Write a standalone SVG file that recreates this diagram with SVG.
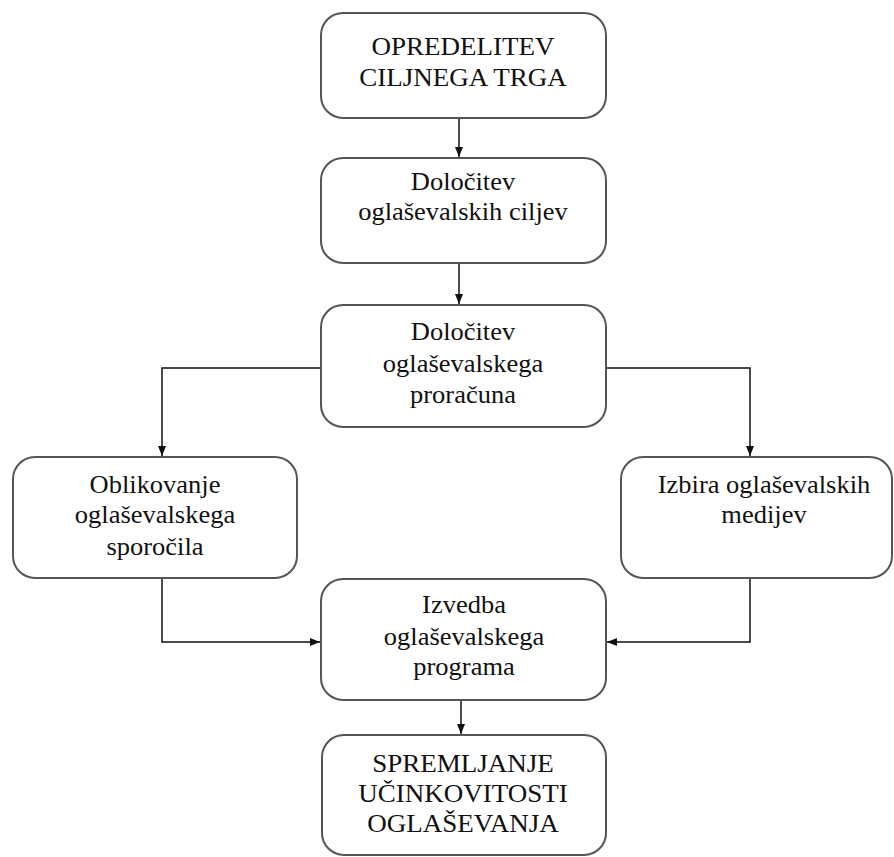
<svg xmlns="http://www.w3.org/2000/svg" width="894" height="857" viewBox="0 0 894 857">
<style>
.box{fill:#fff;stroke:#555;stroke-width:2}
.t{font-family:"Liberation Serif","Times New Roman","DejaVu Serif",serif;font-size:25px;fill:#111;text-anchor:middle}
.u{font-family:"Liberation Serif","Times New Roman","DejaVu Serif",serif;font-size:26px;fill:#111;text-anchor:middle}
.c{fill:none;stroke:#111;stroke-width:1.5}
</style>
<defs>
<marker id="ah" markerWidth="10" markerHeight="10" refX="10" refY="5" orient="auto" markerUnits="userSpaceOnUse">
<path d="M0,1 L10,5 L0,9 Z" fill="#111"/>
</marker>
</defs>
<rect width="894" height="857" fill="#fff"/>
<g id="connectors">
<path class="c" d="M459,118 L459,157" marker-end="url(#ah)"/>
<path class="c" d="M459,263 L459,304" marker-end="url(#ah)"/>
<path class="c" d="M321,368 L162,368 L162,456" marker-end="url(#ah)"/>
<path class="c" d="M606,368 L750,368 L750,456" marker-end="url(#ah)"/>
<path class="c" d="M162,578 L162,642 L320,642" marker-end="url(#ah)"/>
<path class="c" d="M750,578 L750,642 L607,642" marker-end="url(#ah)"/>
<path class="c" d="M461,700 L461,734" marker-end="url(#ah)"/>
</g>
<g id="n1">
<rect class="box" x="321" y="13" width="285" height="105" rx="22"/>
<g transform="translate(463,0) scale(1.04,1)">
<text class="u" x="0" y="55">OPREDELITEV</text>
<text class="u" x="0" y="86">CILJNEGA TRGA</text>
</g>
</g>
<g id="n2">
<rect class="box" x="321" y="158" width="285" height="105" rx="22"/>
<g transform="translate(463,0) scale(1.06,1)">
<text class="t" x="0" y="190">Določitev</text>
<text class="t" x="0" y="220">oglaševalskih ciljev</text>
</g>
</g>
<g id="n3">
<rect class="box" x="321" y="305" width="285" height="122" rx="22"/>
<g transform="translate(463,0) scale(1.06,1)">
<text class="t" x="0" y="340">Določitev</text>
<text class="t" x="0" y="372">oglaševalskega</text>
<text class="t" x="0" y="403">proračuna</text>
</g>
</g>
<g id="n4">
<rect class="box" x="13" y="457" width="284" height="121" rx="22"/>
<g transform="translate(155,0) scale(1.06,1)">
<text class="t" x="0" y="493">Oblikovanje</text>
<text class="t" x="0" y="523">oglaševalskega</text>
<text class="t" x="0" y="555">sporočila</text>
</g>
</g>
<g id="n5">
<rect class="box" x="621" y="457" width="271" height="121" rx="22"/>
<g transform="translate(764,0) scale(1.06,1)">
<text class="t" x="0" y="493">Izbira oglaševalskih</text>
<text class="t" x="0" y="523">medijev</text>
</g>
</g>
<g id="n6">
<rect class="box" x="321" y="579" width="285" height="121" rx="22"/>
<g transform="translate(464,0) scale(1.06,1)">
<text class="t" x="0" y="613">Izvedba</text>
<text class="t" x="0" y="645">oglaševalskega</text>
<text class="t" x="0" y="675">programa</text>
</g>
</g>
<g id="n7">
<rect class="box" x="322" y="735" width="284" height="120" rx="22"/>
<g transform="translate(463,0) scale(1.04,1)">
<text class="u" x="0" y="772">SPREMLJANJE</text>
<text class="u" x="0" y="802">UČINKOVITOSTI</text>
<text class="u" x="0" y="832">OGLAŠEVANJA</text>
</g>
</g>
</svg>
